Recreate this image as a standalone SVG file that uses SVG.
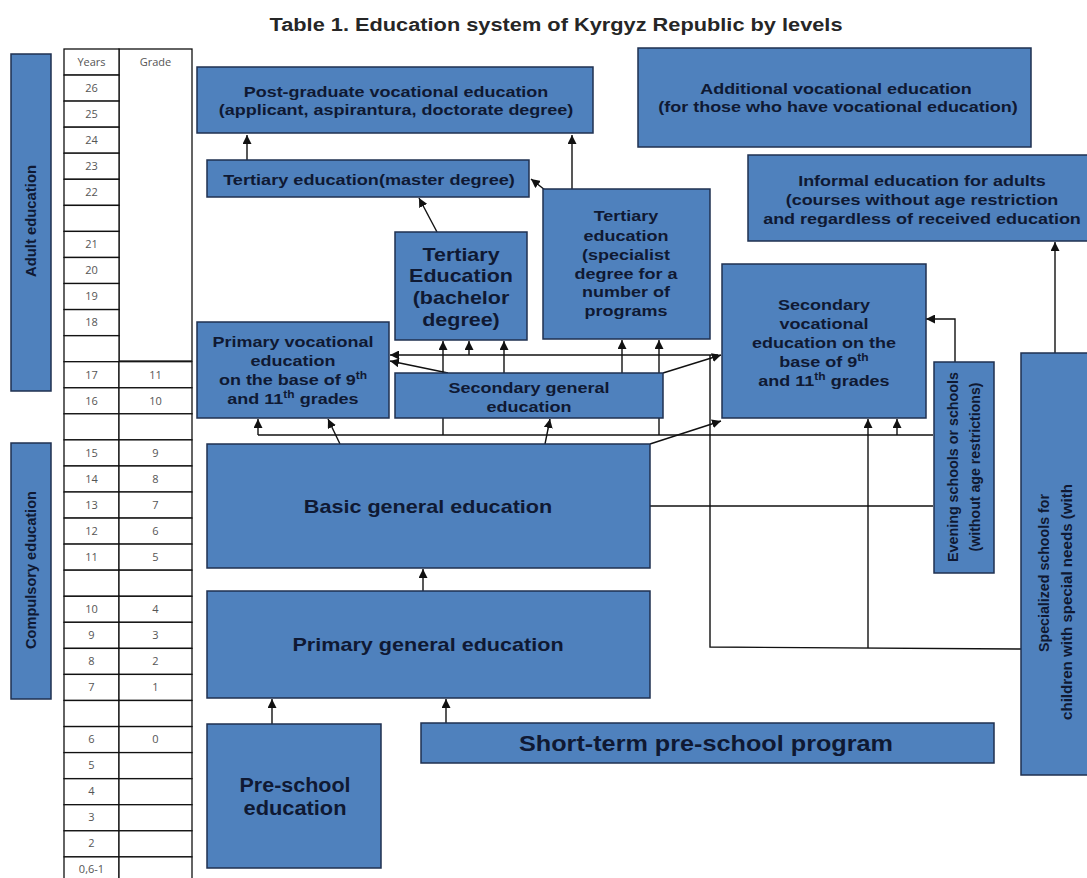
<svg xmlns="http://www.w3.org/2000/svg" width="1087" height="878" viewBox="0 0 1087 878">
<defs>
<style>
.box{fill:#4F81BD;stroke:#1f3050;stroke-width:1.5}
.t{font-family:"Liberation Sans",Arial,sans-serif;font-weight:bold;fill:#0f1933;text-anchor:middle}
.n{font-family:"Liberation Sans",Arial,sans-serif;font-weight:bold;fill:#0f1933;text-anchor:middle}
.c{fill:none;stroke:#111;stroke-width:1.4}
.a{fill:none;stroke:#111;stroke-width:1.4;marker-end:url(#ah)}
.cell{fill:#fff;stroke:#111;stroke-width:1.3}
.tt{font-family:"Open Sans","DejaVu Sans",sans-serif;font-size:11px;fill:#555;text-anchor:middle}
</style>
<marker id="ah" viewBox="0 0 10 10" refX="10" refY="5" markerWidth="9" markerHeight="9" markerUnits="userSpaceOnUse" orient="auto">
<path d="M0,0 L10,5 L0,10 z" fill="#111"/>
</marker>
</defs>
<rect width="1087" height="878" fill="#fff"/>
<text class="t" font-size="18" style="fill:#262626" transform="translate(556,31) scale(1.21,1)">Table 1. Education system of Kyrgyz Republic by levels</text>

<g id="age-table">
<rect class="cell" x="119" y="49" width="73" height="312"/>
<text class="tt" x="155.5" y="66">Grade</text>
<rect class="cell" x="64" y="49" width="55" height="26"/><text class="tt" x="91.5" y="66">Years</text>
<rect class="cell" x="64" y="75.1" width="55" height="26"/><text class="tt" x="91.5" y="92">26</text>
<rect class="cell" x="64" y="101.1" width="55" height="26"/><text class="tt" x="91.5" y="118">25</text>
<rect class="cell" x="64" y="127.2" width="55" height="26"/><text class="tt" x="91.5" y="144">24</text>
<rect class="cell" x="64" y="153.2" width="55" height="26"/><text class="tt" x="91.5" y="170">23</text>
<rect class="cell" x="64" y="179.3" width="55" height="26"/><text class="tt" x="91.5" y="196">22</text>
<rect class="cell" x="64" y="205.4" width="55" height="26"/>
<rect class="cell" x="64" y="231.4" width="55" height="26"/><text class="tt" x="91.5" y="248">21</text>
<rect class="cell" x="64" y="257.5" width="55" height="26"/><text class="tt" x="91.5" y="274">20</text>
<rect class="cell" x="64" y="283.5" width="55" height="26"/><text class="tt" x="91.5" y="300">19</text>
<rect class="cell" x="64" y="309.6" width="55" height="26"/><text class="tt" x="91.5" y="326">18</text>
<rect class="cell" x="64" y="335.7" width="55" height="26"/>
<rect class="cell" x="64" y="361.7" width="55" height="26"/><text class="tt" x="91.5" y="379">17</text>
<rect class="cell" x="119" y="361.7" width="73" height="26"/><text class="tt" x="155.5" y="379">11</text>
<rect class="cell" x="64" y="387.8" width="55" height="26"/><text class="tt" x="91.5" y="405">16</text>
<rect class="cell" x="119" y="387.8" width="73" height="26"/><text class="tt" x="155.5" y="405">10</text>
<rect class="cell" x="64" y="413.8" width="55" height="26"/>
<rect class="cell" x="119" y="413.8" width="73" height="26"/>
<rect class="cell" x="64" y="439.9" width="55" height="26"/><text class="tt" x="91.5" y="457">15</text>
<rect class="cell" x="119" y="439.9" width="73" height="26"/><text class="tt" x="155.5" y="457">9</text>
<rect class="cell" x="64" y="466" width="55" height="26"/><text class="tt" x="91.5" y="483">14</text>
<rect class="cell" x="119" y="466" width="73" height="26"/><text class="tt" x="155.5" y="483">8</text>
<rect class="cell" x="64" y="492" width="55" height="26"/><text class="tt" x="91.5" y="509">13</text>
<rect class="cell" x="119" y="492" width="73" height="26"/><text class="tt" x="155.5" y="509">7</text>
<rect class="cell" x="64" y="518.1" width="55" height="26"/><text class="tt" x="91.5" y="535">12</text>
<rect class="cell" x="119" y="518.1" width="73" height="26"/><text class="tt" x="155.5" y="535">6</text>
<rect class="cell" x="64" y="544.1" width="55" height="26"/><text class="tt" x="91.5" y="561">11</text>
<rect class="cell" x="119" y="544.1" width="73" height="26"/><text class="tt" x="155.5" y="561">5</text>
<rect class="cell" x="64" y="570.2" width="55" height="26"/>
<rect class="cell" x="119" y="570.2" width="73" height="26"/>
<rect class="cell" x="64" y="596.3" width="55" height="26"/><text class="tt" x="91.5" y="613">10</text>
<rect class="cell" x="119" y="596.3" width="73" height="26"/><text class="tt" x="155.5" y="613">4</text>
<rect class="cell" x="64" y="622.3" width="55" height="26"/><text class="tt" x="91.5" y="639">9</text>
<rect class="cell" x="119" y="622.3" width="73" height="26"/><text class="tt" x="155.5" y="639">3</text>
<rect class="cell" x="64" y="648.4" width="55" height="26"/><text class="tt" x="91.5" y="665">8</text>
<rect class="cell" x="119" y="648.4" width="73" height="26"/><text class="tt" x="155.5" y="665">2</text>
<rect class="cell" x="64" y="674.4" width="55" height="26"/><text class="tt" x="91.5" y="691">7</text>
<rect class="cell" x="119" y="674.4" width="73" height="26"/><text class="tt" x="155.5" y="691">1</text>
<rect class="cell" x="64" y="700.5" width="55" height="26"/>
<rect class="cell" x="119" y="700.5" width="73" height="26"/>
<rect class="cell" x="64" y="726.6" width="55" height="26"/><text class="tt" x="91.5" y="743">6</text>
<rect class="cell" x="119" y="726.6" width="73" height="26"/><text class="tt" x="155.5" y="743">0</text>
<rect class="cell" x="64" y="752.6" width="55" height="26"/><text class="tt" x="91.5" y="769">5</text>
<rect class="cell" x="119" y="752.6" width="73" height="26"/>
<rect class="cell" x="64" y="778.7" width="55" height="26"/><text class="tt" x="91.5" y="795">4</text>
<rect class="cell" x="119" y="778.7" width="73" height="26"/>
<rect class="cell" x="64" y="804.7" width="55" height="26"/><text class="tt" x="91.5" y="821">3</text>
<rect class="cell" x="119" y="804.7" width="73" height="26"/>
<rect class="cell" x="64" y="830.8" width="55" height="26"/><text class="tt" x="91.5" y="847">2</text>
<rect class="cell" x="119" y="830.8" width="73" height="26"/>
<rect class="cell" x="64" y="856.9" width="55" height="26"/><text class="tt" x="91.5" y="873">0,6-1</text>
<rect class="cell" x="119" y="856.9" width="73" height="26"/>
</g>

<g id="adult-education">
<rect class="box" x="11" y="54" width="40" height="337"/>
<text class="n" font-size="14.5" textLength="112" lengthAdjust="spacingAndGlyphs" transform="translate(36,221) rotate(-90)">Adult education</text>
</g>
<g id="compulsory-education">
<rect class="box" x="11" y="443" width="40" height="256"/>
<text class="n" font-size="14.5" textLength="158" lengthAdjust="spacingAndGlyphs" transform="translate(36,570) rotate(-90)">Compulsory education</text>
</g>

<g id="connectors">
<path class="a" d="M247,160 V135"/>
<path class="a" d="M572,189 V135"/>
<path class="a" d="M545,190 L531,179"/>
<path class="a" d="M437,232 L419,198"/>
<path class="a" d="M443,373 V341"/>
<path class="a" d="M469,355 V341"/>
<path class="a" d="M504,373 V341"/>
<path class="a" d="M622,373 V340"/>
<path class="a" d="M659,435 V340"/>
<path class="a" d="M718,355 H390"/>
<path class="a" d="M448,373 L390,361"/>
<path class="a" d="M663,373 L721,355"/>
<path class="c" d="M258,435 H933"/>
<path class="a" d="M258,435 V419"/>
<path class="a" d="M897,435 V419"/>
<path class="c" d="M443,418 V435"/>
<path class="a" d="M340,444 L328,419"/>
<path class="a" d="M545,444 L550,419"/>
<path class="a" d="M650,444 L721,421"/>
<path class="c" d="M650,506 H933"/>
<path class="a" d="M423,591 V569"/>
<path class="a" d="M272,724 V699"/>
<path class="a" d="M446,723 V699"/>
<path class="a" d="M1055,353 V242"/>
<path class="a" d="M955,362 V319 H926"/>
<path class="c" d="M1021,649 L710,647 V355"/>
<path class="a" d="M868,648 V419"/>
</g>

<g id="post-graduate">
<rect class="box" x="197" y="67" width="396" height="66"/>
<text class="t" font-size="15" transform="translate(396,97) scale(1.2,1)">Post-graduate vocational education</text>
<text class="t" font-size="15" transform="translate(396,115) scale(1.2,1)">(applicant, aspirantura, doctorate degree)</text>
</g>
<g id="additional-vocational">
<rect class="box" x="638" y="48" width="393" height="99"/>
<text class="t" font-size="15" transform="translate(836,94) scale(1.2,1)">Additional vocational education</text>
<text class="t" font-size="15" transform="translate(838,112) scale(1.2,1)">(for those who have vocational education)</text>
</g>
<g id="tertiary-master">
<rect class="box" x="207" y="160" width="322" height="37"/>
<text class="t" font-size="15" transform="translate(369,185) scale(1.21,1)">Tertiary education(master degree)</text>
</g>
<g id="informal-education">
<rect class="box" x="748" y="155" width="345" height="86"/>
<text class="t" font-size="15" transform="translate(922,186) scale(1.2,1)">Informal education for adults</text>
<text class="t" font-size="15" transform="translate(922,205) scale(1.2,1)">(courses without age restriction</text>
<text class="t" font-size="15" transform="translate(922,224) scale(1.2,1)">and regardless of received education</text>
</g>
<g id="tertiary-specialist">
<rect class="box" x="543" y="189" width="167" height="150"/>
<text class="t" font-size="15" transform="translate(626,221) scale(1.2,1)">Tertiary</text>
<text class="t" font-size="15" transform="translate(626,241) scale(1.2,1)">education</text>
<text class="t" font-size="15" transform="translate(626,260) scale(1.2,1)">(specialist</text>
<text class="t" font-size="15" transform="translate(626,279) scale(1.2,1)">degree for a</text>
<text class="t" font-size="15" transform="translate(626,297) scale(1.2,1)">number of</text>
<text class="t" font-size="15" transform="translate(626,316) scale(1.2,1)">programs</text>
</g>
<g id="tertiary-bachelor">
<rect class="box" x="395" y="232" width="132" height="108"/>
<text class="t" font-size="19" transform="translate(461,261) scale(1.13,1)">Tertiary</text>
<text class="t" font-size="19" transform="translate(461,282) scale(1.13,1)">Education</text>
<text class="t" font-size="19" transform="translate(461,304) scale(1.13,1)">(bachelor</text>
<text class="t" font-size="19" transform="translate(461,326) scale(1.13,1)">degree)</text>
</g>
<g id="secondary-vocational">
<rect class="box" x="722" y="264" width="204" height="154"/>
<text class="t" font-size="15" transform="translate(824,310) scale(1.2,1)">Secondary</text>
<text class="t" font-size="15" transform="translate(824,329) scale(1.2,1)">vocational</text>
<text class="t" font-size="15" transform="translate(824,348) scale(1.2,1)">education on the</text>
<text class="t" font-size="15" transform="translate(824,367) scale(1.2,1)">base of 9<tspan font-size="10" dy="-6">th</tspan></text>
<text class="t" font-size="15" transform="translate(824,386) scale(1.2,1)">and 11<tspan font-size="10" dy="-6">th</tspan><tspan dy="6"> grades</tspan></text>
</g>
<g id="primary-vocational">
<rect class="box" x="197" y="322" width="192" height="96"/>
<text class="t" font-size="15" transform="translate(293,347) scale(1.2,1)">Primary vocational</text>
<text class="t" font-size="15" transform="translate(293,366) scale(1.2,1)">education</text>
<text class="t" font-size="15" transform="translate(293,385) scale(1.2,1)">on the base of 9<tspan font-size="10" dy="-6">th</tspan></text>
<text class="t" font-size="15" transform="translate(293,404) scale(1.2,1)">and 11<tspan font-size="10" dy="-6">th</tspan><tspan dy="6"> grades</tspan></text>
</g>
<g id="secondary-general">
<rect class="box" x="395" y="373" width="268" height="45"/>
<text class="t" font-size="15" transform="translate(529,393) scale(1.2,1)">Secondary general</text>
<text class="t" font-size="15" transform="translate(529,412) scale(1.2,1)">education</text>
</g>
<g id="evening-schools">
<rect class="box" x="934" y="362" width="60" height="211"/>
<text class="n" font-size="14" textLength="190" lengthAdjust="spacingAndGlyphs" transform="translate(958,467) rotate(-90)">Evening schools or schools</text>
<text class="n" font-size="14" textLength="169" lengthAdjust="spacingAndGlyphs" transform="translate(980,467) rotate(-90)">(without age restrictions)</text>
</g>
<g id="specialized-schools">
<rect class="box" x="1021" y="353" width="72" height="422"/>
<text class="n" font-size="14" style="text-anchor:start" textLength="158" lengthAdjust="spacingAndGlyphs" transform="translate(1049,652) rotate(-90)">Specialized schools for</text>
<text class="n" font-size="14" style="text-anchor:start" textLength="236" lengthAdjust="spacingAndGlyphs" transform="translate(1072,720) rotate(-90)">children with special needs  (with</text>
</g>
<g id="basic-general">
<rect class="box" x="207" y="444" width="443" height="124"/>
<text class="t" font-size="18" transform="translate(428,513) scale(1.2,1)">Basic general education</text>
</g>
<g id="primary-general">
<rect class="box" x="207" y="591" width="443" height="107"/>
<text class="t" font-size="18" transform="translate(428,651) scale(1.2,1)">Primary general education</text>
</g>
<g id="short-term-preschool">
<rect class="box" x="421" y="723" width="573" height="40"/>
<text class="n" font-size="22" x="706" y="751" textLength="374" lengthAdjust="spacingAndGlyphs">Short-term pre-school program</text>
</g>
<g id="preschool">
<rect class="box" x="207" y="724" width="174" height="144"/>
<text class="n" font-size="20" x="295" y="792" textLength="111" lengthAdjust="spacingAndGlyphs">Pre-school</text>
<text class="n" font-size="20" x="295" y="815" textLength="103" lengthAdjust="spacingAndGlyphs">education</text>
</g>
</svg>
